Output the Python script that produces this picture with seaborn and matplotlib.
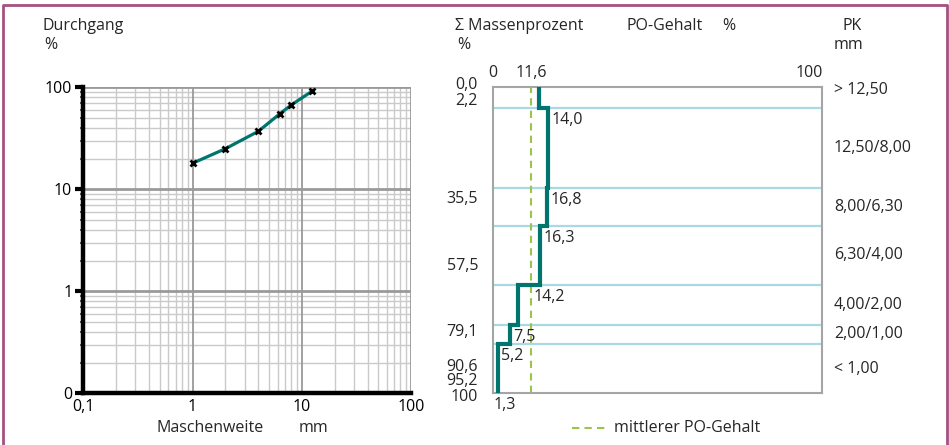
import matplotlib
matplotlib.use("Agg")
import matplotlib.pyplot as plt
import matplotlib.transforms as mtransforms
from matplotlib.lines import Line2D
import numpy as np
import pandas as pd
import seaborn as sns

# ---------------- data ----------------
# Sieve curve (left panel)
sieve_mm = [1.0, 2.0, 4.0, 6.3, 8.0, 12.5]
passing_pct = [18, 25, 37, 55, 67, 92]
x_tick_vals = [0.1, 1, 10, 100]
x_tick_labels = ["0,1", "1", "10", "100"]
y_tick_vals = [0.1, 1, 10, 100]
y_tick_labels = ["0", "1", "10", "100"]

# PO content per size class (right panel)
pk_classes = ["> 12,50", "12,50/8,00", "8,00/6,30", "6,30/4,00",
              "4,00/2,00", "2,00/1,00", "< 1,00"]
class_bounds = [0.0, 7.0, 32.9, 45.4, 64.7, 77.7, 83.9, 100.0]
po_values = [14.0, 16.8, 16.3, 14.2, 7.5, 5.2, 1.3]
po_labels = ["14,0", "16,8", "16,3", "14,2", "7,5", "5,2", "1,3"]
mean_po = 11.6
cum_values = [0.0, 2.2, 35.5, 57.5, 79.1, 90.6, 95.2, 100.0]
cum_labels = ["0,0", "2,2", "35,5", "57,5", "79,1", "90,6", "95,2", "100"]

# ---------------- style ----------------
sns.set_theme(style="white")
plt.rcParams["font.family"] = ["Open Sans", "DejaVu Sans"]
FS = 11.5
TEAL = "#00756e"
LBLUE = "#aad8e4"
GREEN = "#9cc44a"
GRAY = "#a5a5a5"
BORDER = "#a6507e"

W, H = 949, 445
fig = plt.figure(figsize=(W / 100, H / 100), dpi=100)


def fx(px):
    return px / W


def fy(py):
    return 1 - py / H


# ---------------- left panel ----------------
L, R, T, B = 83.3, 411.0, 87.3, 393.3
axl = fig.add_axes([fx(L), fy(B), fx(R) - fx(L), (B - T) / H])
axl.set_xscale("log")
axl.set_yscale("log")
axl.set_xlim(0.1, 100)
axl.set_ylim(0.1, 100)

# grid
for dec in [0.1, 1, 10]:
    for m in range(2, 10):
        v = dec * m
        axl.axvline(v, color="#cacaca", lw=1.0, zorder=0)
        axl.axhline(v, color="#cacaca", lw=1.0, zorder=0)
for v in [1, 10, 100]:
    axl.axvline(v, color="#9a9a9a", lw=1.3, zorder=0.5)
    axl.axhline(v, color="#9a9a9a", lw=2.0, zorder=0.5)

df_sieve = pd.DataFrame({"mm": sieve_mm, "pass": passing_pct})
sns.lineplot(data=df_sieve, x="mm", y="pass", ax=axl, color=TEAL, lw=2.3,
             zorder=3, sort=False, estimator=None)
axl.plot(sieve_mm, passing_pct, ls="none", marker="x", color="black",
         ms=5, mew=2, zorder=4)

for s in ["top", "right"]:
    axl.spines[s].set_visible(False)
for s in ["left", "bottom"]:
    axl.spines[s].set_color("black")
    axl.spines[s].set_linewidth(3.2)
axl.set_xticks(x_tick_vals)
axl.set_xticklabels(x_tick_labels, fontsize=FS)
axl.set_yticks(y_tick_vals)
axl.set_yticklabels(y_tick_labels, fontsize=FS)
axl.xaxis.set_minor_locator(matplotlib.ticker.NullLocator())
axl.tick_params(axis="x", which="major", length=0, pad=4, colors="black")
axl.tick_params(axis="y", which="major", length=6, width=3, pad=2,
                colors="black", direction="out", left=True)
axl.tick_params(axis="y", which="minor", length=2, width=1.5,
                color="#666666", left=True)
axl.set_xlabel("")
axl.set_ylabel("")

fig.text(fx(43), fy(25.7), "Durchgang", fontsize=FS, ha="left", va="center")
fig.text(fx(44), fy(45), "%", fontsize=FS, ha="left", va="center")
fig.text(fx(156), fy(428), "Maschenweite", fontsize=FS, ha="left", va="center")
fig.text(fx(299), fy(428), "mm", fontsize=FS, ha="left", va="center")

# ---------------- right panel ----------------
L2, R2, T2, B2 = 493.3, 821.7, 86.7, 393.3
axr = fig.add_axes([fx(L2), fy(B2), fx(R2) - fx(L2), (B2 - T2) / H])
axr.set_xlim(0, 100)
axr.set_ylim(100, 0)
axr.set_xticks([])
axr.set_yticks([])
for s in axr.spines.values():
    s.set_color(GRAY)
    s.set_linewidth(1.5)

for b in class_bounds[1:-1]:
    axr.axhline(b, color=LBLUE, lw=1.6, zorder=1)

axr.axvline(mean_po, color=GREEN, lw=1.5, ls=(0, (3.5, 2.5)), zorder=2)

# step line
sx, sy = [], []
for i, v in enumerate(po_values):
    sx += [v, v]
    sy += [class_bounds[i], class_bounds[i + 1]]
df_step = pd.DataFrame({"x": sx, "y": sy})
sns.lineplot(data=df_step, x="x", y="y", ax=axr, color=TEAL, lw=3,
             sort=False, estimator=None, zorder=3,
             solid_joinstyle="miter")
axr.set_xlabel("")
axr.set_ylabel("")
axr.set_ylim(100, 0)
axr.set_xlim(0, 100)

# value labels at the bottom of each segment
for i, (v, lab) in enumerate(zip(po_values, po_labels)):
    yb = class_bounds[i + 1]
    if i + 1 < len(po_values):
        nx = po_values[i + 1] + 1.0
        if mean_po - 5.0 < nx < mean_po:
            nx = mean_po + 0.6
    else:
        nx = 0.0
    axr.text(nx, yb + 1.3, lab, fontsize=FS, ha="left", va="top",
             clip_on=False, zorder=5)

# top scale labels
axr.text(0, -4.5, "0", fontsize=FS, ha="center", va="center", clip_on=False)
axr.text(mean_po, -4.5, "11,6", fontsize=FS, ha="center", va="center",
         clip_on=False)
axr.text(100.3, -4.5, "100", fontsize=FS, ha="right", va="center",
         clip_on=False)

# cumulative mass labels (left of panel), spread to avoid overlap
ypos = [c + 1.0 for c in cum_values]
for i in range(1, len(ypos)):
    gap = ypos[i] - ypos[i - 1]
    if gap < 5.2:
        d = (5.2 - gap) / 2
        ypos[i - 1] -= d
        ypos[i] += d
trans_l = mtransforms.blended_transform_factory(axr.transAxes, axr.transData)
for yp, lab in zip(ypos, cum_labels):
    axr.text((478 - L2) / (R2 - L2), yp, lab, fontsize=FS, ha="right",
             va="center", transform=trans_l, clip_on=False)

# PK class labels (right of panel)
for i, lab in enumerate(pk_classes):
    mid = (class_bounds[i] + class_bounds[i + 1]) / 2
    if i == 0:
        mid = 1.2
    axr.text((834 - L2) / (R2 - L2), mid, lab, fontsize=FS, ha="left",
             va="center", transform=trans_l, clip_on=False)

fig.text(fx(455), fy(25.7), "\u03a3 Massenprozent", fontsize=FS, ha="left",
         va="center")
fig.text(fx(457), fy(45), "%", fontsize=FS, ha="left", va="center")
fig.text(fx(626), fy(25.7), "PO-Gehalt", fontsize=FS, ha="left", va="center")
fig.text(fx(722), fy(25.7), "%", fontsize=FS, ha="left", va="center")
fig.text(fx(843), fy(25.7), "PK", fontsize=FS, ha="left", va="center")
fig.text(fx(834), fy(45), "mm", fontsize=FS, ha="left", va="center")

# legend
fig.add_artist(Line2D([fx(571.7), fx(606.7)], [fy(428), fy(428)],
                      color=GREEN, lw=1.5, ls=(0, (3.5, 2.5))))
fig.text(fx(614), fy(428), "mittlerer PO-Gehalt", fontsize=FS, ha="left",
         va="center")

# outer border (left, top, right)
fig.add_artist(Line2D([fx(3), fx(3), fx(947), fx(947)],
                      [0, fy(5), fy(5), 0], color=BORDER, lw=2))

fig.savefig("out.png", dpi=100)
